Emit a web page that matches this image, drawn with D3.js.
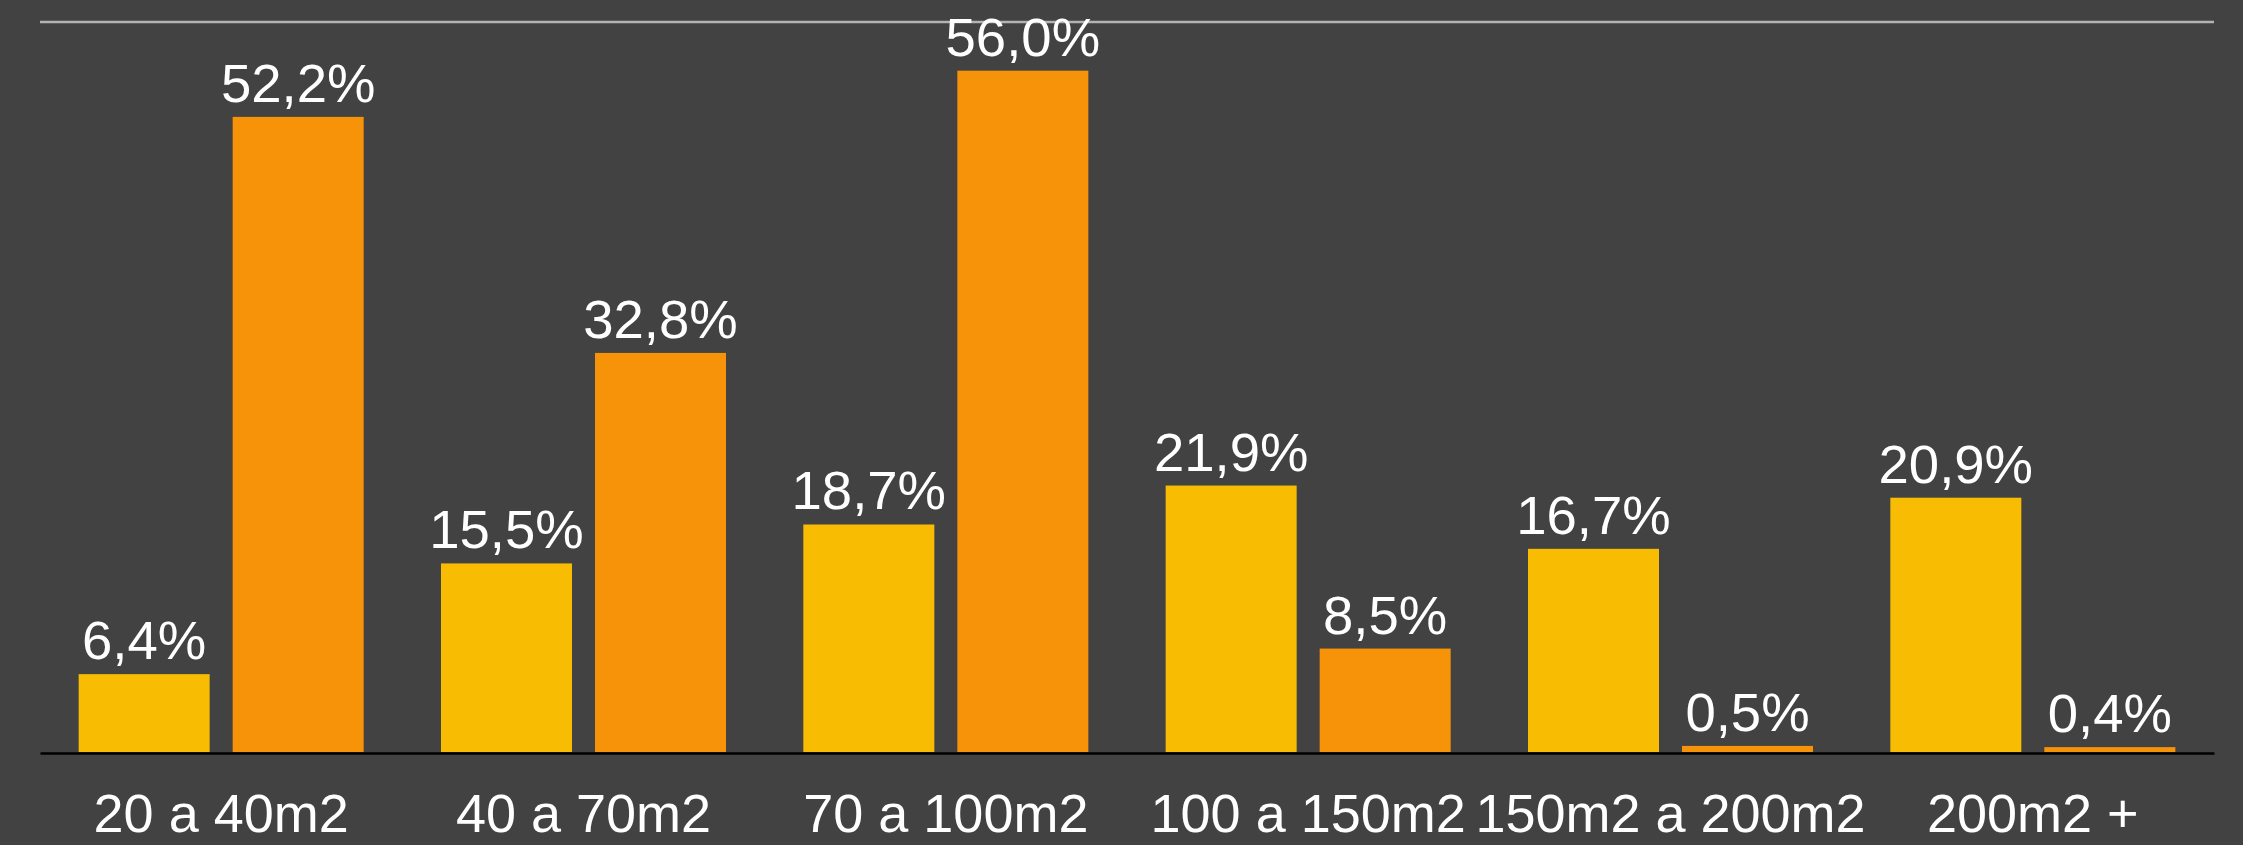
<!DOCTYPE html>
<html>
<head>
<meta charset="utf-8">
<script src="https://cdn.jsdelivr.net/npm/d3@7"></script>
<style>
  html, body { margin: 0; padding: 0; background: #424242; }
  svg { display: block; }
  text { font-family: "Liberation Sans", Arial, Helvetica, sans-serif; fill: #ffffff; }
</style>
</head>
<body>
<svg id="chart" width="2243" height="845"></svg>
<script>
// Surface ranges (categories) and the two series, in percent
const categories = ["20 a 40m2", "40 a 70m2", "70 a 100m2", "100 a 150m2", "150m2 a 200m2", "200m2 +"];
const seriesKeys = ["s1", "s2"];
const series1 = [6.4, 15.5, 18.7, 21.9, 16.7, 20.9];
const series2 = [52.2, 32.8, 56.0, 8.5, 0.5, 0.4];
const seriesColors = ["#f8bc03", "#f79309"];

const rows = categories.map((c, i) => ({ cat: c, s1: series1[i], s2: series2[i] }));

const svg = d3.select("#chart");
const plotLeft = 40, plotRight = 2214, plotTop = 22, plotBottom = 752;

const x0 = d3.scaleBand().domain(categories).range([plotLeft, plotRight]).paddingInner(0).paddingOuter(0);
const x1 = d3.scaleBand().domain(seriesKeys).range([0, x0.bandwidth()])
  .paddingInner(0.1494).paddingOuter(0.251);
const y = d3.scaleLinear().domain([0, 60]).range([plotBottom, plotTop]);

const fmt = v => d3.format(".1f")(v).replace(".", ",") + "%";

// top frame line at the maximum of the value scale
svg.append("line")
  .attr("x1", plotLeft).attr("x2", plotRight)
  .attr("y1", y(60)).attr("y2", y(60))
  .attr("stroke", "#b3b3b3").attr("stroke-width", 2.5);

const groups = svg.append("g").selectAll("g")
  .data(rows).join("g")
  .attr("transform", d => `translate(${x0(d.cat)},0)`);

groups.selectAll("rect")
  .data(d => seriesKeys.map((k, j) => ({ key: k, value: d[k], j })))
  .join("rect")
  .attr("x", d => x1(d.key))
  .attr("width", x1.bandwidth())
  .attr("y", d => y(d.value))
  .attr("height", d => y(0) - y(d.value))
  .attr("fill", d => seriesColors[d.j]);

groups.selectAll("text.val")
  .data(d => seriesKeys.map((k, j) => ({ key: k, value: d[k], j })))
  .join("text")
  .attr("class", "val")
  .attr("x", d => x1(d.key) + x1.bandwidth() / 2)
  .attr("y", d => y(d.value) - 15)
  .attr("text-anchor", "middle")
  .attr("font-size", 54.5)
  .text(d => fmt(d.value));

// baseline axis with category labels
const xAxis = svg.append("g")
  .attr("transform", `translate(0,${plotBottom + 1})`)
  .call(d3.axisBottom(x0).tickSize(0).tickPadding(0));
xAxis.select(".domain").attr("stroke", "#000").attr("stroke-width", 2.5);
xAxis.selectAll(".tick text")
  .attr("dy", 0)
  .attr("y", 79)
  .attr("font-size", 54)
  .attr("fill", "#fff")
  .style("font-family", '"Liberation Sans", Arial, Helvetica, sans-serif');
</script>
</body>
</html>
